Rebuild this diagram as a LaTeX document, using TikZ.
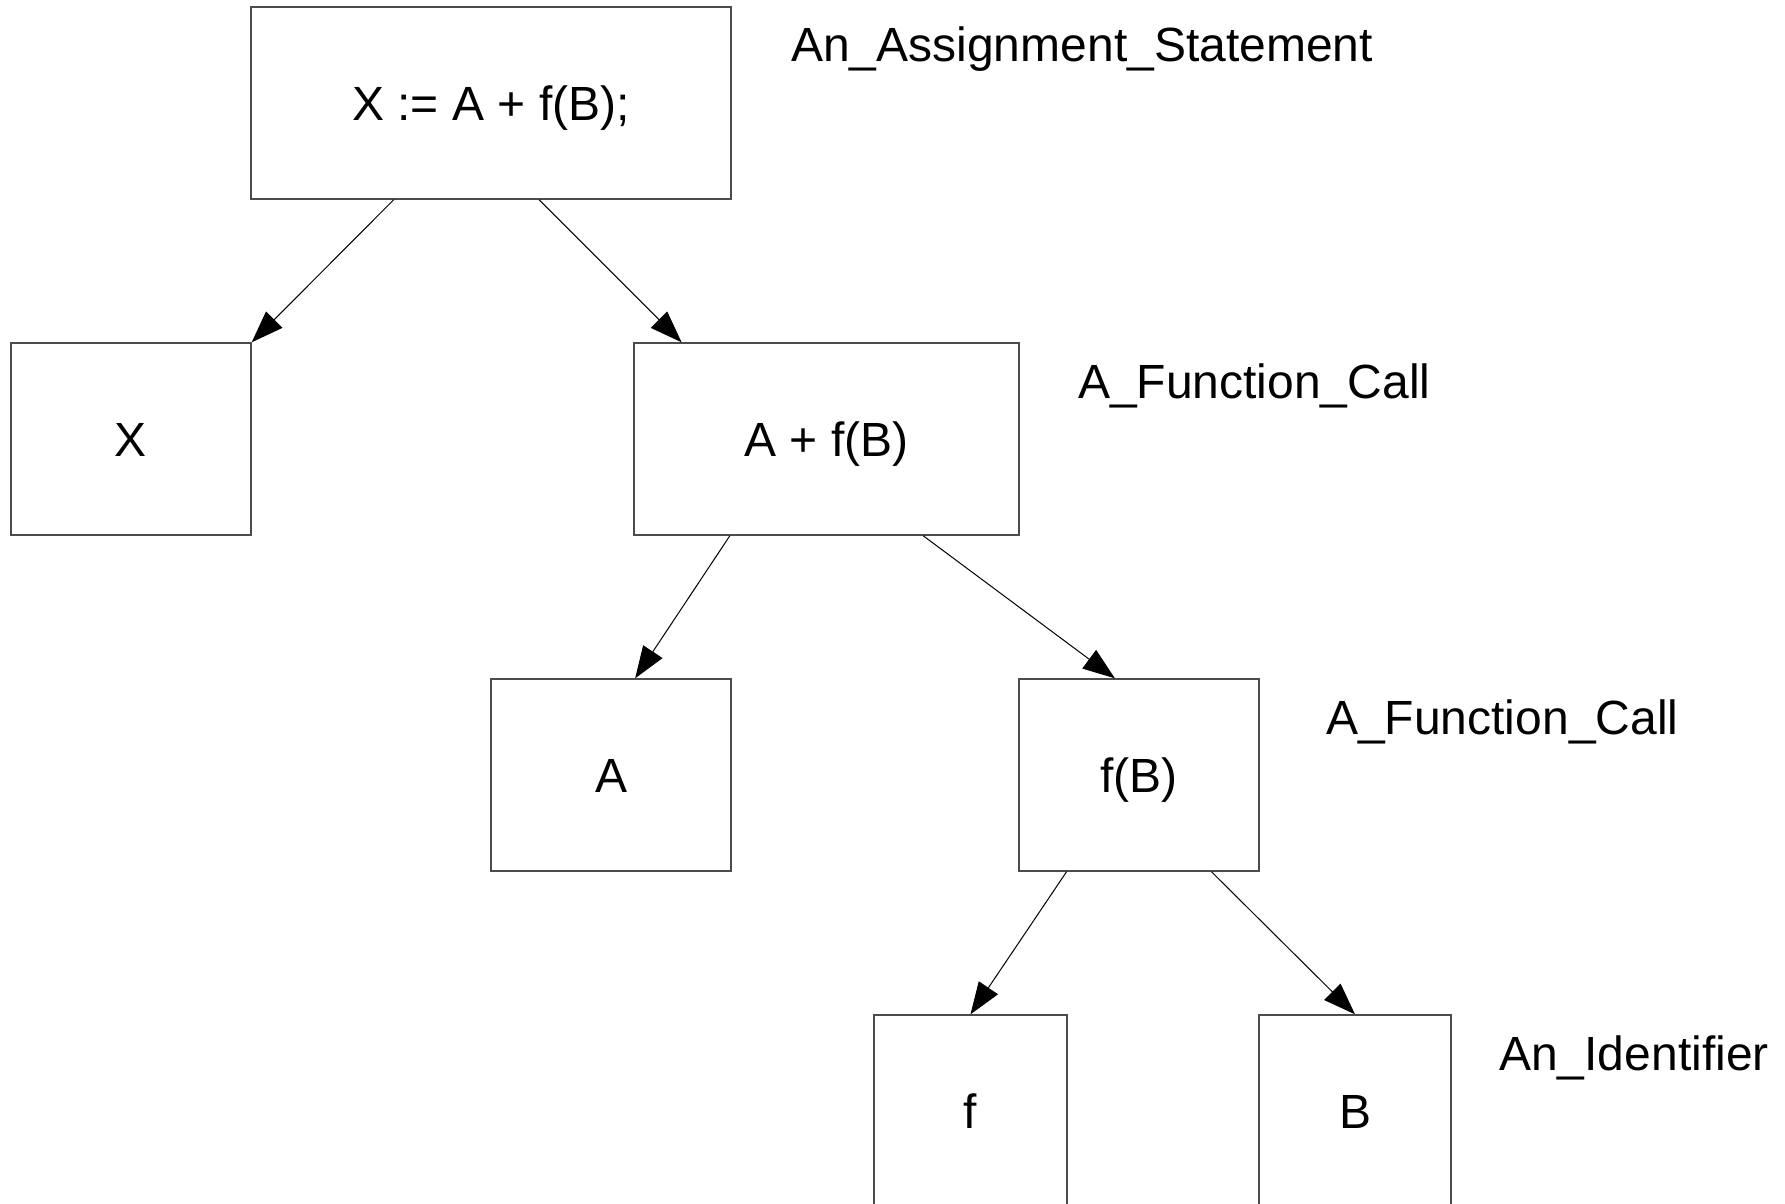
\documentclass[tikz,border=0pt]{standalone}
\usepackage{fontspec}
\setmainfont{Liberation Sans}
\usetikzlibrary{arrows.meta,calc}
\begin{document}
\begin{tikzpicture}[x=1pt,y=-1pt,
  box/.style={draw=black!70,line width=1.4pt,rectangle,inner sep=0pt,
    minimum height=192pt,text height=34.4pt,text depth=0pt,
    font=\fontsize{48}{57}\selectfont},
  lbl/.style={anchor=base west,inner sep=0pt,font=\fontsize{48}{57}\selectfont},
  arr/.style={line width=1pt,-{Triangle[length=32pt,width=23pt]}}]
\useasboundingbox (0,0) rectangle (1785,1204);
\node[box,minimum width=480pt] (top) at (491,103) {X := A + f(B);};
\node[box,minimum width=240pt] (x) at (131,439) {X};
\node[box,minimum width=385pt] (afb) at (826.5,439) {A + f(B)};
\node[box,minimum width=240pt] (a) at (611,775) {A};
\node[box,minimum width=240pt] (fb) at (1139,775) {f(B)};
\node[box,minimum width=193pt] (f) at (970.5,1111) {f};
\node[box,minimum width=192pt] (b) at (1355,1111) {B};
\node[lbl] (l1) at (791,62) {An\_Assignment\_Statement};
\node[lbl] (l2) at (1078,398) {A\_Function\_Call};
\node[lbl] (l3) at (1326,734) {A\_Function\_Call};
\node[lbl] (l4) at (1499,1070) {An\_Identifier};
\draw[arr] ($(top.south west)!0.298!(top.south east)$) -- (x.north east);
\draw[arr] ($(top.south west)!0.6!(top.south east)$) -- ($(afb.north west)!0.125!(afb.north east)$);
\draw[arr] ($(afb.south west)!0.25!(afb.south east)$) -- ($(a.north west)!0.6!(a.north east)$);
\draw[arr] ($(afb.south west)!0.75!(afb.south east)$) -- ($(fb.north west)!0.4!(fb.north east)$);
\draw[arr] ($(fb.south west)!0.2!(fb.south east)$) -- (f.north);
\draw[arr] ($(fb.south west)!0.8!(fb.south east)$) -- (b.north);
\end{tikzpicture}
\end{document}
